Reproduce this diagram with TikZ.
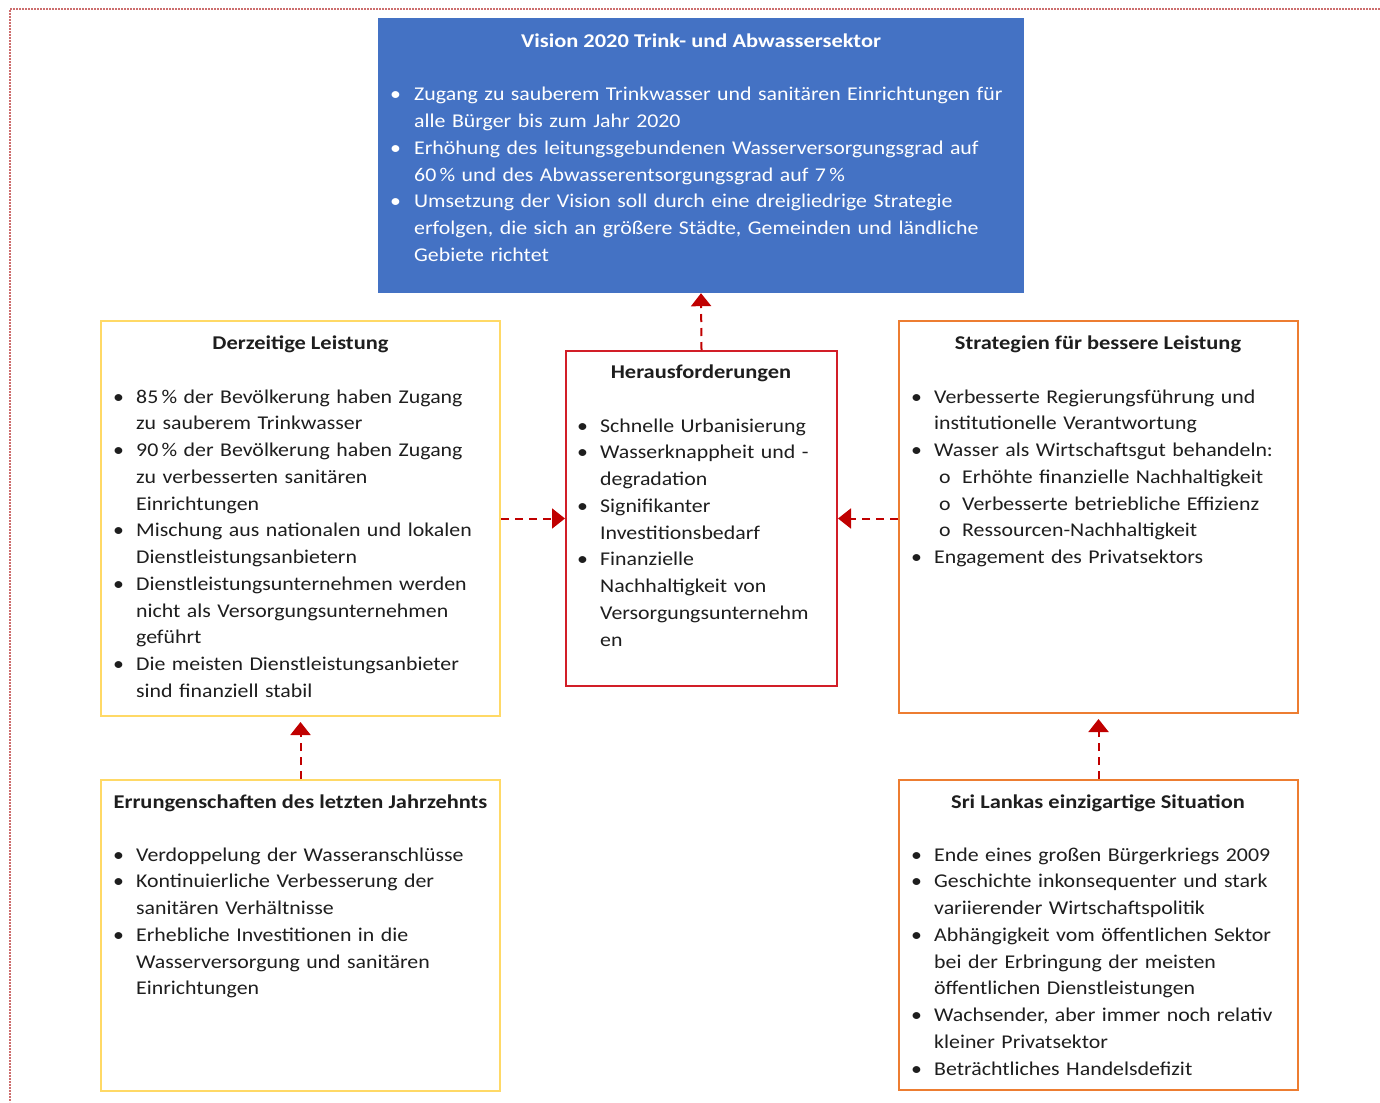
\documentclass[tikz,border=0pt]{standalone}
\usepackage{fontspec}
\setmainfont{Carlito}[FakeStretch=1.12, BoldFeatures={FakeStretch=1.15}]
\usetikzlibrary{arrows.meta}
\definecolor{visblue}{RGB}{68,114,196}
\definecolor{ybord}{RGB}{255,217,102}
\definecolor{obord}{RGB}{237,125,49}
\definecolor{rbord}{RGB}{210,30,40}
\definecolor{arrred}{RGB}{192,0,0}
\definecolor{txtgray}{RGB}{30,30,30}
\definecolor{frame}{RGB}{205,110,110}
\newcommand{\mybul}[1][23pt]{\makebox[#1][l]{•}}
\newcommand{\myind}[1][23pt]{\hspace*{#1}}
\newcommand{\mysub}{\hspace*{28pt}\makebox[23pt][l]{o}}
\tikzset{
  x=1pt, y=-1pt,
  boxframe/.style={draw, line width=2pt, inner sep=0pt, fill=white},
  ybox/.style={boxframe, draw=ybord},
  obox/.style={boxframe, draw=obord},
  rbox/.style={boxframe, draw=rbord},
  bluebox/.style={fill=visblue, inner sep=0pt},
  txt/.style={anchor=base west, inner sep=0pt, text width=700pt, align=left,
    font=\fontsize{19.5}{26.75}\selectfont, text=txtgray},
  ttl/.style={anchor=base, inner sep=0pt,
    font=\fontsize{19.5}{26.75}\selectfont\bfseries, text=txtgray},
  arr/.style={draw=arrred, line width=2pt, dash pattern=on 8pt off 6pt,
    -{Triangle[width=20pt,length=13pt,fill=arrred]}},
}
\begin{document}
\begin{tikzpicture}
\useasboundingbox (0,0) rectangle (1380,1102);
% dotted frame
\draw[frame, line width=1.6pt, dash pattern=on 2pt off 1pt] (1380,9) -- (10,9) -- (10,1102);

% boxes
\node[bluebox, minimum width=646pt, minimum height=275pt] (vision) at (701,155.5) {};
\node[ybox, minimum width=399pt, minimum height=395pt] (derz) at (300.5,518.5) {};
\node[rbox, minimum width=271pt, minimum height=335pt] (herausf) at (701.5,518.5) {};
\node[obox, minimum width=399pt, minimum height=392pt] (strat) at (1098.5,517) {};
\node[ybox, minimum width=399pt, minimum height=311pt] (errung) at (300.5,935.5) {};
\node[obox, minimum width=399pt, minimum height=310pt] (sri) at (1098.5,935) {};

% titles
\node[ttl, text=white] (tvision) at (701,47.5) {Vision 2020 Trink- und Abwassersektor};
\node[ttl] (tderz) at (300.5,349) {Derzeitige Leistung};
\node[ttl] (therausf) at (701,378) {Herausforderungen};
\node[ttl] (tstrat) at (1098,349) {Strategien für bessere Leistung};
\node[ttl] (terrung) at (300.5,808) {Errungenschaften des letzten Jahrzehnts};
\node[ttl] (tsri) at (1098,808) {Sri Lankas einzigartige Situation};

% body texts
\node[txt, text=white] (bvision) at (390,101) {%
\mybul[24pt]Zugang zu sauberem Trinkwasser und sanitären Einrichtungen für\\
\myind[24pt]alle Bürger bis zum Jahr 2020\\
\mybul[24pt]Erhöhung des leitungsgebundenen Wasserversorgungsgrad auf\\
\myind[24pt]60\,\% und des Abwasserentsorgungsgrad auf 7\,\%\\
\mybul[24pt]Umsetzung der Vision soll durch eine dreigliedrige Strategie\\
\myind[24pt]erfolgen, die sich an größere Städte, Gemeinden und ländliche\\
\myind[24pt]Gebiete richtet};

\node[txt] (bderz) at (113,403) {%
\mybul 85\,\% der Bevölkerung haben Zugang\\
\myind zu sauberem Trinkwasser\\
\mybul 90\,\% der Bevölkerung haben Zugang\\
\myind zu verbesserten sanitären\\
\myind Einrichtungen\\
\mybul Mischung aus nationalen und lokalen\\
\myind Dienstleistungsanbietern\\
\mybul Dienstleistungsunternehmen werden\\
\myind nicht als Versorgungsunternehmen\\
\myind geführt\\
\mybul Die meisten Dienstleistungsanbieter\\
\myind sind finanziell stabil};

\node[txt] (bherausf) at (577,432) {%
\mybul Schnelle Urbanisierung\\
\mybul Wasserknappheit und -\\
\myind degradation\\
\mybul Signifikanter\\
\myind Investitionsbedarf\\
\mybul Finanzielle\\
\myind Nachhaltigkeit von\\
\myind Versorgungsunternehm\\
\myind en};

\node[txt] (bstrat) at (911,403) {%
\mybul Verbesserte Regierungsführung und\\
\myind institutionelle Verantwortung\\
\mybul Wasser als Wirtschaftsgut behandeln:\\
\mysub Erhöhte finanzielle Nachhaltigkeit\\
\mysub Verbesserte betriebliche Effizienz\\
\mysub Ressourcen-Nachhaltigkeit\\
\mybul Engagement des Privatsektors};

\node[txt] (berrung) at (113,861) {%
\mybul Verdoppelung der Wasseranschlüsse\\
\mybul Kontinuierliche Verbesserung der\\
\myind sanitären Verhältnisse\\
\mybul Erhebliche Investitionen in die\\
\myind Wasserversorgung und sanitären\\
\myind Einrichtungen};

\node[txt] (bsri) at (911,861) {%
\mybul Ende eines großen Bürgerkriegs 2009\\
\mybul Geschichte inkonsequenter und stark\\
\myind variierender Wirtschaftspolitik\\
\mybul Abhängigkeit vom öffentlichen Sektor\\
\myind bei der Erbringung der meisten\\
\myind öffentlichen Dienstleistungen\\
\mybul Wachsender, aber immer noch relativ\\
\myind kleiner Privatsektor\\
\mybul Beträchtliches Handelsdefizit};

% connectors
\draw[arr] (herausf.north) -- (vision.south);
\draw[arr] (derz.east) -- (herausf.west);
\draw[arr] (strat.west |- herausf.east) -- (herausf.east);
\draw[arr, shorten >=5pt] (errung.north) -- (derz.south);
\draw[arr, shorten >=5pt] (sri.north) -- (strat.south);
\end{tikzpicture}
\end{document}
